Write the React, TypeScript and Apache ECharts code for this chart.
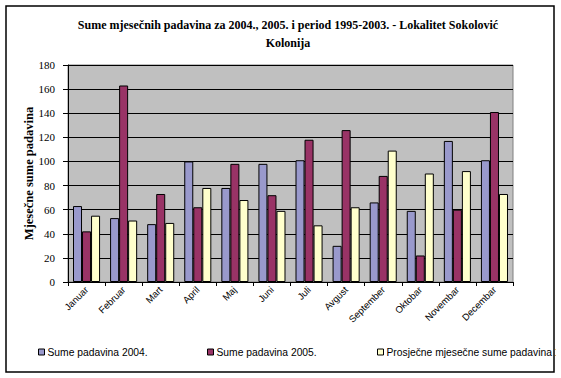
import React, { useEffect, useRef } from "react";
import * as echarts from "echarts";

const months = ["Januar", "Februar", "Mart", "April", "Maj", "Juni", "Juli", "Avgust", "September", "Oktobar", "Novembar", "Decembar"];
const seriesNames = ["Sume padavina 2004.", "Sume padavina 2005.", "Prosječne mjesečne sume padavina 1995-2003."];
const rain2004 = [63, 53, 48, 100, 78, 98, 101, 30, 66, 59, 117, 101];
const rain2005 = [42, 163, 73, 62, 98, 72, 118, 126, 88, 22, 60, 141];
const avg9503 = [55, 51, 49, 78, 68, 59, 47, 62, 109, 90, 92, 73];
const colors = ["#9999CC", "#993366", "#FFFFCC"];
const titleText = "Sume mjesečnih padavina za 2004., 2005. i period 1995-2003. - Lokalitet Sokolović\nKolonija";
const yAxisName = "Mjesečne sume padavina";

export default function App() {
  const ref = useRef<HTMLDivElement>(null);
  useEffect(() => {
    if (!ref.current) return;
    const chart = echarts.init(ref.current, null, { renderer: "svg" });
    const serif = "'Liberation Serif', 'Times New Roman', serif";
    const sans = "'Liberation Sans', Arial, sans-serif";
    const data = [rain2004, rain2005, avg9503];
    const legendLefts = [33, 202, 372];
    chart.setOption({
      animation: false,
      backgroundColor: "#ffffff",
      title: {
        text: titleText,
        left: 283,
        textAlign: "center",
        top: 11,
        textStyle: { fontFamily: serif, fontWeight: "bold", fontSize: 12, lineHeight: 18, color: "#000" },
      },
      graphic: [
        {
          type: "rect",
          shape: { x: 6, y: 6, width: 548, height: 366 },
          style: { fill: "none", stroke: "#000", lineWidth: 1.5 },
          silent: true,
        },
      ],
      legend: seriesNames.map((n, i) => ({
        data: [n],
        left: legendLefts[i],
        top: 342,
        icon: "rect",
        itemWidth: 6,
        itemHeight: 6,
        itemStyle: { borderColor: "#000", borderWidth: 1 },
        textStyle: { fontFamily: sans, fontSize: 10.3, color: "#000", padding: [0, 0, 0, -2] },
        selectedMode: false,
      })),
      grid: {
        left: 68,
        top: 65,
        width: 445,
        height: 217,
        show: true,
        backgroundColor: "#C0C0C0",
        borderColor: "#808080",
        borderWidth: 1,
      },
      xAxis: {
        type: "category",
        data: months,
        axisLine: { lineStyle: { color: "#000", width: 1 } },
        axisTick: { show: true, length: 4, lineStyle: { color: "#000" } },
        axisLabel: { rotate: 45, interval: 0, fontFamily: sans, fontSize: 9.5, color: "#000", margin: 6 },
      },
      yAxis: {
        type: "value",
        min: 0,
        max: 180,
        interval: 20,
        name: yAxisName,
        nameLocation: "middle",
        nameGap: 33,
        nameMoveOverlap: false,
        nameTextStyle: { fontFamily: serif, fontWeight: "bold", fontSize: 12.5, color: "#000" },
        axisLine: { show: true, lineStyle: { color: "#000", width: 1 } },
        axisTick: { show: true, length: 5, lineStyle: { color: "#000" } },
        axisLabel: { fontFamily: serif, fontSize: 11, color: "#000", margin: 13 },
        splitLine: { show: true, lineStyle: { color: "#000", width: 1 } },
      },
      series: seriesNames.map((n, i) => ({
        name: n,
        type: "bar",
        data: data[i],
        barGap: "0%",
        barCategoryGap: "27%",
        itemStyle: { color: colors[i], borderColor: "#000", borderWidth: 1 },
      })),
    });
    return () => chart.dispose();
  }, []);
  return <div ref={ref} style={{ position: "fixed", left: 0, top: 0, width: 556, height: 378 }} />;
}
